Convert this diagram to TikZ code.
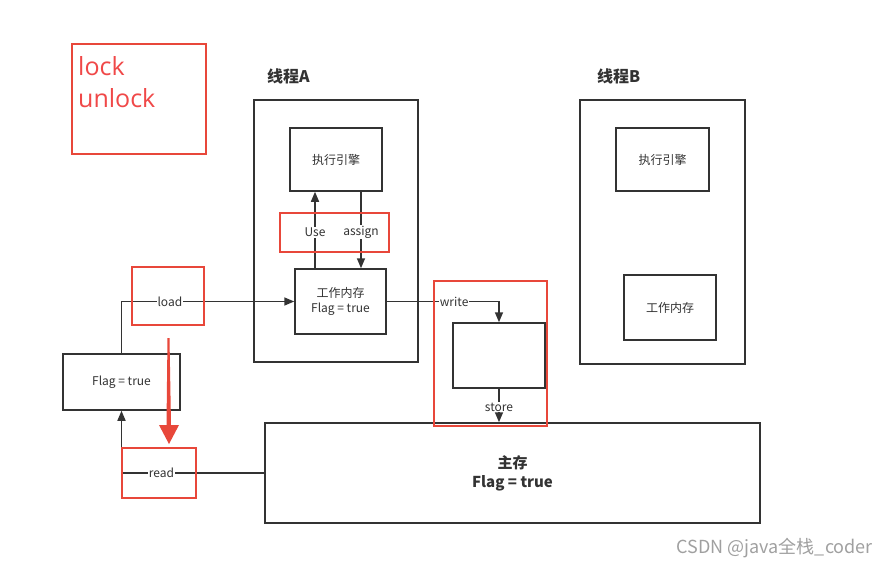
\documentclass[tikz,border=0pt]{standalone}
\usepackage{fontspec}
\setmainfont{Noto Sans CJK SC}
\newfontfamily\latinfont{Open Sans}
\usetikzlibrary{arrows.meta}
\definecolor{ink}{HTML}{333333}
\definecolor{redbox}{HTML}{E8473A}
\definecolor{locktext}{HTML}{F04848}
\definecolor{wm}{HTML}{A0A0A0}
\tikzset{
  box/.style={draw=ink, line width=1.5pt, fill=white, inner sep=0pt, text=ink,
    font=\fontsize{12}{15}\selectfont, align=center},
  hl/.style={draw=redbox, line width=1.8pt, inner sep=0pt},
  conn/.style={draw=ink, line width=1.5pt},
  arr/.style={conn, -{Triangle[length=10pt,width=8pt]}},
  lbl/.style={fill=white, inner sep=1pt, text=ink, font=\fontsize{12}{14}\selectfont},
  title/.style={font=\bfseries\fontsize{16}{19}\selectfont, text=ink, inner sep=0pt},
}
\begin{document}
\begin{tikzpicture}[x=1pt,y=-1pt]
\useasboundingbox[fill=white] (0,0) rectangle (889,565);

% lock / unlock
\node[hl, minimum width=134pt, minimum height=110pt] (lockbox) at (139,99) {};
\node[anchor=base west, inner sep=0pt, text=locktext, font=\latinfont\fontsize{25}{28}\selectfont] (lockt) at (78,75) {lock};
\node[anchor=base west, inner sep=0pt, text=locktext, font=\latinfont\fontsize{25}{28}\selectfont] (unlockt) at (78,107) {unlock};

% thread titles
\node[title, anchor=base west] (tA) at (267,82) {线程A};
\node[title, anchor=base west] (tB) at (597,82) {线程B};

% thread A
\node[box, minimum width=164pt, minimum height=262pt] (threadA) at (336,231) {};
\node[box, minimum width=92pt, minimum height=63pt] (engA) at (336,159.5) {执行引擎};
\node[box, minimum width=91pt, minimum height=65pt] (wmA) at (340.5,301.5) {工作内存\\Flag = true};

% thread B
\node[box, minimum width=165pt, minimum height=264pt] (threadB) at (662.5,232) {};
\node[box, minimum width=93pt, minimum height=63pt] (engB) at (662.5,159.5) {执行引擎};
\node[box, minimum width=92pt, minimum height=65pt] (wmB) at (670,307.5) {工作内存};

% write box
\node[box, minimum width=92pt, minimum height=65pt] (wbox) at (499,355.5) {};

% main memory
\node[box, minimum width=495pt, minimum height=100pt, font=\bfseries\fontsize{15}{19}\selectfont] (main) at (512.5,473) {主存\\Flag = true};

% flag box
\node[box, minimum width=117pt, minimum height=56pt] (flag) at (121.5,382) {Flag = true};

% connectors
\coordinate (useX) at (315,0);
\coordinate (assignX) at (361,0);
\draw[arr] (wmA.north -| useX) -- node[lbl, pos=0.47] (useL) {Use} (engA.south -| useX);
\draw[arr] (engA.south -| assignX) -- node[lbl, pos=0.53] (assignL) {assign} (wmA.north -| assignX);
\draw[arr] (flag.north) |- node[lbl, pos=0.64] (loadL) {load} (wmA.west);
\draw[arr] (wmA.east) -| node[lbl, pos=0.3] (writeL) {write} (wbox.north);
\draw[arr] (wbox.south) -- node[lbl, pos=0.55] (storeL) {store} (main.north -| wbox.south);
\draw[arr] (main.west) -| node[lbl, pos=0.36] (readL) {read} (flag.south);

% red highlight boxes
\node[hl, minimum width=109pt, minimum height=39pt] (uahl) at (334.5,232.5) {};
\node[hl, minimum width=113pt, minimum height=145pt] (writehl) at (490.5,353.5) {};
\node[hl, minimum width=72pt, minimum height=58pt] (loadhl) at (168,296) {};
\node[hl, minimum width=74pt, minimum height=50pt] (readhl) at (159,473) {};

% red arrow
\fill[redbox] (167.5,338) -- (169.5,338) -- (171,425) -- (179,425) -- (169,444)
  -- (159,425) -- (166.5,425) -- cycle;

% watermark
\node[anchor=base east, inner sep=0pt, text=wm, font=\fontsize{18}{21}\selectfont] (wmark) at (873,553) {CSDN @java全栈\_coder};
\end{tikzpicture}
\end{document}
